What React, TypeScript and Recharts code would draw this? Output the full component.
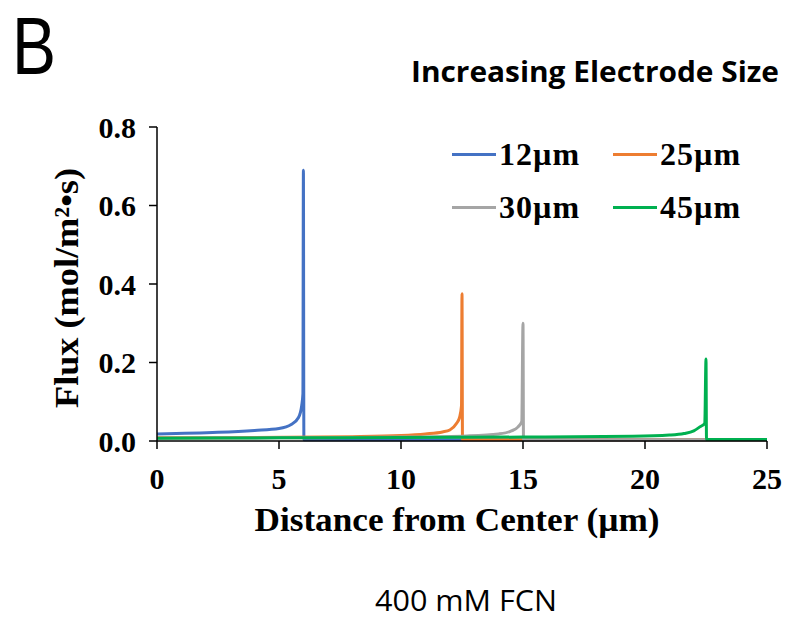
import { LineChart, Line, XAxis, YAxis } from 'recharts';

// distance from center (µm) / flux (mol/m²•s)
const dist12 = [0, 2.5, 4, 5, 5.5, 5.8, 5.93, 5.98, 6.0, 6.02, 25];
const flux12 = [0.018, 0.022, 0.027, 0.032, 0.042, 0.06, 0.09, 0.12, 0.69, 0.003, 0.003];

const dist25 = [0, 4, 8, 10, 11, 11.7, 12.0, 12.28, 12.4, 12.48, 12.5, 12.52, 25];
const flux25 = [0.008, 0.009, 0.011, 0.014, 0.018, 0.023, 0.028, 0.045, 0.06, 0.09, 0.375, 0.003, 0.003];

const dist30 = [0, 5, 10, 12.7, 14.0, 14.5, 14.8, 14.95, 15.0, 15.02, 25];
const flux30 = [0.007, 0.008, 0.01, 0.013, 0.018, 0.025, 0.036, 0.05, 0.3, 0.003, 0.003];

const dist45 = [0, 5, 10, 15, 19.5, 21.0, 21.6, 22.0, 22.25, 22.45, 22.5, 22.52, 25];
const flux45 = [0.007, 0.008, 0.009, 0.01, 0.012, 0.015, 0.019, 0.026, 0.036, 0.045, 0.209, 0.004, 0.004];

const xTicks = [0, 5, 10, 15, 20, 25];
const yTicks = [0, 0.2, 0.4, 0.6, 0.8];

const names = ['12µm', '25µm', '30µm', '45µm'];
const colors = ['#4472C4', '#ED7D31', '#A5A5A5', '#00B050'];

const zip = (xs: number[], ys: number[]) => xs.map((x, i) => ({ x, y: ys[i] }));
const series = [
  zip(dist12, flux12),
  zip(dist25, flux25),
  zip(dist30, flux30),
  zip(dist45, flux45),
].map((data, i) => ({ name: names[i], color: colors[i], data }));

const serif = '"Liberation Serif", "Times New Roman", serif';
const sans = '"Open Sans", "Noto Sans", sans-serif';

const tickStyle = { fill: '#000', fontSize: 30, fontWeight: 700, fontFamily: serif };

function YLabel({ viewBox }: any) {
  const cx = viewBox.x + 9;
  const cy = viewBox.y + viewBox.height / 2 + 4;
  return (
    <text
      x={cx}
      y={cy}
      transform={`rotate(-90 ${cx} ${cy})`}
      textAnchor="middle"
      dominantBaseline="central"
      fill="#000"
      fontSize={34}
      fontWeight={700}
      fontFamily={serif}
      textLength={240}
      lengthAdjust="spacingAndGlyphs"
    >
      Flux (mol/m²•s)
    </text>
  );
}

function XLabel({ viewBox }: any) {
  const cx = viewBox.x + viewBox.width / 2 - 5;
  return (
    <text
      x={cx}
      y={531}
      textAnchor="middle"
      fill="#000"
      fontSize={34}
      fontWeight={700}
      fontFamily={serif}
      textLength={405}
      lengthAdjust="spacingAndGlyphs"
    >
      Distance from Center (µm)
    </text>
  );
}

export default function App() {
  return (
    <div style={{ position: 'absolute', left: 0, top: 0, width: 794, height: 619, background: '#fff' }}>
      <LineChart
        width={794}
        height={619}
        margin={{ top: 127, right: 27, bottom: 78, left: 57 }}
      >
        <XAxis
          type="number"
          dataKey="x"
          domain={[0, 25]}
          ticks={xTicks}
          height={100}
          tickSize={8}
          tickMargin={19}
          stroke="#000"
          strokeWidth={1.5}
          tick={tickStyle}
          label={{ content: XLabel }}
        />
        <YAxis
          type="number"
          dataKey="y"
          domain={[0, 0.8]}
          ticks={yTicks}
          width={100}
          tickSize={8}
          tickMargin={13}
          stroke="#000"
          strokeWidth={1.5}
          tick={tickStyle}
          tickFormatter={(v: number) => v.toFixed(1)}
          label={{ content: YLabel }}
        />
        {series.map((s) => (
          <Line
            key={s.name}
            data={s.data}
            dataKey="y"
            name={s.name}
            type="monotone"
            stroke={s.color}
            strokeWidth={3}
            dot={false}
            activeDot={false}
            isAnimationActive={false}
          />
        ))}
      </LineChart>

      {/* legend, two columns */}
      {series.map((s, i) => (
        <div
          key={s.name}
          style={{
            position: 'absolute',
            left: 452 + (i % 2) * 161,
            top: 154 + Math.floor(i / 2) * 53,
            transform: 'translateY(-50%)',
            display: 'flex',
            alignItems: 'center',
            fontFamily: serif,
            fontWeight: 700,
            fontSize: 32,
            letterSpacing: 1,
            lineHeight: 1,
            whiteSpace: 'nowrap',
          }}
        >
          <span style={{ display: 'inline-block', width: 44, height: 3, background: s.color, marginRight: 3 }} />
          <span>{s.name}</span>
        </div>
      ))}

      <svg width={794} height={619} style={{ position: 'absolute', left: 0, top: 0, pointerEvents: 'none' }}>
        <text x={12} y={74} fontSize={81} fontFamily='"Liberation Sans", Arial, sans-serif' fill="#000" textLength={44} lengthAdjust="spacingAndGlyphs">
          B
        </text>
        <text x={411} y={82} fontSize={28} fontWeight={700} fontFamily={sans} fill="#000" textLength={368} lengthAdjust="spacingAndGlyphs">
          Increasing Electrode Size
        </text>
        <text x={375} y={611} fontSize={29} fontFamily={sans} fill="#000" textLength={182} lengthAdjust="spacingAndGlyphs">
          400 mM FCN
        </text>
      </svg>
    </div>
  );
}
